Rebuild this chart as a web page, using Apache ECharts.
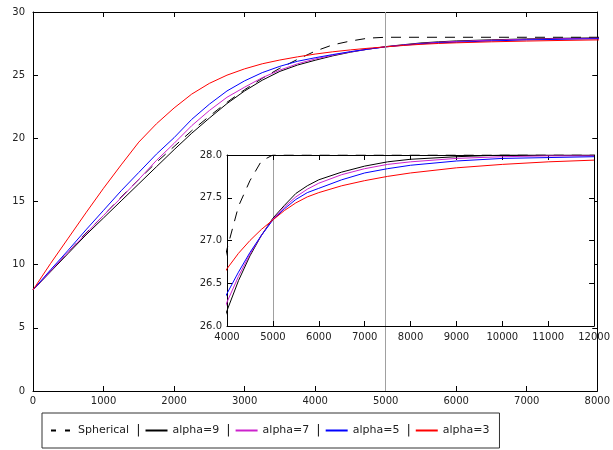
<!DOCTYPE html>
<html>
<head>
<meta charset="utf-8">
<script src="https://cdn.jsdelivr.net/npm/echarts@6/dist/echarts.min.js"></script>
<style>
html,body{margin:0;padding:0;background:#fff;}
#chart{width:613px;height:450px;}
</style>
</head>
<body>
<div id="chart"></div>
<script>
// ---- data ----
const xs = [0,250,500,750,1000,1250,1500,1750,2000,2250,2500,2750,3000,3250,3500,3750,4000,4250,4500,4750,5000,5250,5500,5750,6000,6500,7000,7500,8000,9000,10000,11000,12000];
const spherical = [8,9.5,11.0,12.5,13.9,15.35,16.75,18.1,19.35,20.6,21.75,22.85,23.85,24.75,25.55,26.25,26.9,27.4,27.7,27.93,28,28,28,28,28,28,28,28,28,28,28,28,28];
const alpha9 = [8,9.45,10.9,12.35,13.7,15.05,16.4,17.75,19.1,20.4,21.6,22.75,23.75,24.6,25.3,25.8,26.18,26.53,26.82,27.06,27.26,27.41,27.55,27.64,27.71,27.8,27.87,27.92,27.95,27.98,28.0,28.0,28.0];
const alpha7 = [8,9.5,11.0,12.45,13.9,15.3,16.75,18.25,19.6,21.0,22.2,23.25,24.05,24.8,25.4,25.9,26.28,26.58,26.84,27.06,27.25,27.39,27.51,27.6,27.67,27.77,27.84,27.89,27.92,27.96,27.98,27.99,27.99];
const alpha5 = [8,9.6,11.15,12.75,14.3,15.85,17.3,18.75,20.05,21.5,22.7,23.75,24.55,25.2,25.7,26.1,26.38,26.63,26.86,27.06,27.24,27.37,27.48,27.56,27.61,27.71,27.79,27.84,27.88,27.93,27.96,27.97,27.98];
const alpha3 = [8,10.1,12.1,14.1,16.05,17.9,19.7,21.15,22.4,23.5,24.35,25.0,25.5,25.9,26.2,26.45,26.67,26.85,27.0,27.13,27.24,27.35,27.44,27.51,27.56,27.64,27.7,27.75,27.79,27.85,27.89,27.92,27.94];
const seriesNames = ['Spherical','alpha=9','alpha=7','alpha=5','alpha=3'];
const seriesValues = [spherical, alpha9, alpha7, alpha5, alpha3];
const markX = 5000;
// main axis ticks
const mainX = {min:0, max:8000, interval:1000};
const mainY = {min:0, max:30, interval:5};
// inset axis ticks
const insetX = {min:4000, max:12000, interval:1000};
const insetY = {min:26, max:28, interval:0.5};

// ---- styling ----
const FONT = 'DejaVu Sans';
const colors = ['#000000','#000000','#cc22cc','#0000ff','#ff0000'];
const lineTypes = [[10,8],'solid','solid','solid','solid'];

function pairs(vals){ return xs.map((x,i)=>[x, vals[i]]); }

function lbl(extra){
  return Object.assign({show:true, color:'#222', fontSize:10, fontFamily:FONT, formatter:v=>String(v)}, extra);
}
function axisCommon(extra){
  return Object.assign({
    type:'value',
    splitLine:{show:false},
    axisLine:{show:true, onZero:false, lineStyle:{color:'#000', width:1}},
    axisTick:{show:true, inside:true, length:5, lineStyle:{color:'#000', width:1}},
    animation:false
  }, extra);
}

const xAxes = [
  axisCommon(Object.assign({gridIndex:0, position:'bottom'}, mainX, {axisLabel:lbl({margin:5})})),
  axisCommon(Object.assign({gridIndex:0, position:'top'}, mainX, {axisLabel:{show:false}})),
  axisCommon(Object.assign({gridIndex:1, position:'bottom', z:10}, insetX, {axisLabel:lbl({margin:6})})),
  axisCommon(Object.assign({gridIndex:1, position:'top', z:10}, insetX, {axisLabel:{show:false}}))
];
const yAxes = [
  axisCommon(Object.assign({gridIndex:0, position:'left'}, mainY, {axisLabel:lbl({margin:8})})),
  axisCommon(Object.assign({gridIndex:0, position:'right'}, mainY, {axisLabel:{show:false}})),
  axisCommon(Object.assign({gridIndex:1, position:'left', z:10}, insetY, {axisLabel:lbl({margin:5, formatter:v=>v.toFixed(1)})})),
  axisCommon(Object.assign({gridIndex:1, position:'right', z:10}, insetY, {axisLabel:{show:false}}))
];

const series = [];
[0,1].forEach(g=>{
  seriesValues.forEach((vals,i)=>{
    const s = {
      name: seriesNames[i],
      type:'line',
      xAxisIndex: g===0?0:2,
      yAxisIndex: g===0?0:2,
      data: pairs(vals),
      symbol:'none',
      showSymbol:false,
      clip:true,
      z: g===0?2:10+i,
      lineStyle:{color:colors[i], width:1, type:lineTypes[i]},
      itemStyle:{color:colors[i]},
      animation:false
    };
    if(i===0){
      s.markLine = {
        silent:true, symbol:'none', animation:false,
        label:{show:false},
        lineStyle:{color:'#a0a0a0', width:1, type:'solid'},
        data:[{xAxis:markX}]
      };
    }
    series.push(s);
  });
});

const chart = echarts.init(document.getElementById('chart'), null, {renderer:'canvas'});
chart.setOption({
  animation:false,
  backgroundColor:'#fff',
  grid:[
    {left:33, top:12, right:13, bottom:59, show:false, z:0},
    {left:227, top:155, right:9, bottom:124, show:true, backgroundColor:'#fff', borderWidth:0, z:5}
  ],
  xAxis:xAxes,
  yAxis:yAxes,
  legend:{
    show:true,
    left:42, top:413,
    orient:'horizontal',
    padding:[11,10,11,8],
    itemWidth:22, itemHeight:14, itemGap:4,
    borderColor:'#333', borderWidth:1,
    itemStyle:{opacity:0},
    textStyle:{color:'#222', fontSize:11, fontFamily:FONT,
      rich:{sep:{fontSize:13, color:'#222', fontFamily:FONT, padding:[0,0,0,7]}}},
    formatter:function(name){ return name===seriesNames[seriesNames.length-1] ? name : name+'{sep||}'; },
    data:[
      {name:'Spherical', lineStyle:{type:[5,9]}},
      'alpha=9','alpha=7','alpha=5','alpha=3'
    ]
  },
  series:series
});
</script>
</body>
</html>
